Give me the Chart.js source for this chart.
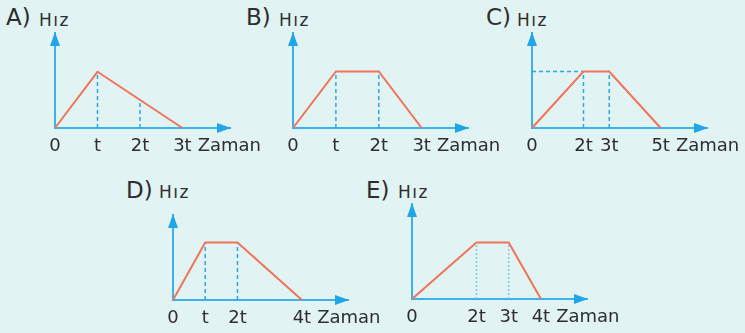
<!DOCTYPE html>
<html>
<head>
<meta charset="utf-8">
<script src="https://cdn.jsdelivr.net/npm/chart.js@4.4.1/dist/chart.umd.min.js"></script>
<style>
  body { margin: 0; width: 745px; height: 333px; overflow: hidden; position: relative; background: #e2f3f3; font-family: "DejaVu Sans", sans-serif; color: #2e2e2e; }
  canvas { position: absolute; }
  .let { position: absolute; font-size: 23px; line-height: 23px; }
  .hiz { position: absolute; font-size: 17px; line-height: 17px; letter-spacing: 1.5px; }
</style>
</head>
<body>
<span class="let" style="left:6px;top:6px">A)</span><span class="hiz" style="left:39px;top:12px">Hız</span>
<span class="let" style="left:246px;top:6px">B)</span><span class="hiz" style="left:279px;top:12px">Hız</span>
<span class="let" style="left:486px;top:6px">C)</span><span class="hiz" style="left:517px;top:12px">Hız</span>
<span class="let" style="left:126px;top:179px">D)</span><span class="hiz" style="left:159px;top:184px">Hız</span>
<span class="let" style="left:366px;top:179px">E)</span><span class="hiz" style="left:398px;top:184px">Hız</span>

<canvas id="cA" width="270" height="141" style="left:5px;top:23px"></canvas>
<canvas id="cB" width="270" height="141" style="left:243px;top:23px"></canvas>
<canvas id="cC" width="270" height="141" style="left:482px;top:23px"></canvas>
<canvas id="cD" width="270" height="131" style="left:123px;top:205px"></canvas>
<canvas id="cE" width="270" height="141" style="left:362px;top:194px"></canvas>

<script>
// time (in t) and speed (peak = 1) for each graph
const timesA = [0, 1, 3];
const speedA = [0, 1, 0];
const timesB = [0, 1, 2, 3];
const speedB = [0, 1, 1, 0];
const timesC = [0, 2, 3, 5];
const speedC = [0, 1, 1, 0];
const timesD = [0, 1, 2, 4];
const speedD = [0, 1, 1, 0];
const timesE = [0, 2, 3, 4];
const speedE = [0, 1, 1, 0];

// dashed guides: x position and height
const guideXA = [1, 2];
const guideYA = [1, 0.5];
const guideXB = [1, 2];
const guideYB = [1, 1];
const guideXC = [2, 3];
const guideYC = [1, 1];
const guideXD = [1, 2];
const guideYD = [1, 1];
const guideXE = [2, 3];
const guideYE = [1, 1];

// tick labels
const ticksA = [0, 1, 2, 3];
const labelsA = ['0', 't', '2t', '3t'];
const ticksB = [0, 1, 2, 3];
const labelsB = ['0', 't', '2t', '3t'];
const ticksC = [0, 2, 3, 5];
const labelsC = ['0', '2t', '3t', '5t'];
const ticksD = [0, 1, 2, 4];
const labelsD = ['0', 't', '2t', '4t'];
const ticksE = [0, 2, 3, 4];
const labelsE = ['0', '2t', '3t', '4t'];

const axisColor = '#3cb2ea';
const arrowColor = '#1ea6e8';
const lineColor = '#f0735a';
const textColor = '#2e2e2e';

// arrow heads + "Zaman" label
const extras = {
  id: 'extras',
  afterDraw(chart) {
    const ctx = chart.ctx;
    const a = chart.chartArea;
    const x = chart.scales.x;
    ctx.save();
    ctx.fillStyle = arrowColor;
    ctx.beginPath();
    ctx.moveTo(a.right + 1, a.bottom);
    ctx.lineTo(a.right - 13, a.bottom - 5);
    ctx.lineTo(a.right - 13, a.bottom + 5);
    ctx.closePath();
    ctx.fill();
    ctx.beginPath();
    ctx.moveTo(a.left, a.top - 1);
    ctx.lineTo(a.left - 5, a.top + 13);
    ctx.lineTo(a.left + 5, a.top + 13);
    ctx.closePath();
    ctx.fill();

    const tks = chart.options.tickVals;
    const lbs = chart.options.tickLabels;
    const last = tks[tks.length - 1];
    ctx.font = '18px "DejaVu Sans"';
    const w = ctx.measureText(lbs[lbs.length - 1]).width;
    ctx.fillStyle = textColor;
    ctx.textBaseline = 'middle';
    ctx.textAlign = 'left';
    ctx.fillText('Zaman', x.getPixelForValue(last) + w / 2 + 6, x.top + 8 + 10.8);
    ctx.restore();
  }
};

function makeChart(id, times, speed, gx, gy, tks, lbs, xMax, yMax, dash, guideColor, hLine) {
  const datasets = [{
    data: times.map((t, i) => ({ x: t, y: speed[i] })),
    borderColor: lineColor,
    borderWidth: 2,
    pointRadius: 0,
    clip: false
  }];
  gx.forEach((g, i) => {
    datasets.push({
      data: [{ x: g, y: 0 }, { x: g, y: gy[i] }],
      borderColor: guideColor,
      borderWidth: 1.5,
      borderDash: dash,
      pointRadius: 0,
      clip: false
    });
  });
  if (hLine) {
    datasets.push({
      data: [{ x: 0, y: gy[0] }, { x: gx[0], y: gy[0] }],
      borderColor: guideColor,
      borderWidth: 1.5,
      borderDash: dash,
      pointRadius: 0,
      clip: false
    });
  }
  new Chart(document.getElementById(id), {
    type: 'line',
    data: { datasets: datasets },
    options: {
      responsive: false,
      animation: false,
      tickVals: tks,
      tickLabels: lbs,
      layout: { padding: { left: 50, top: 10, right: 45, bottom: 6 } },
      plugins: { legend: { display: false }, tooltip: { enabled: false } },
      scales: {
        x: {
          type: 'linear',
          min: 0,
          max: xMax,
          grid: { display: false, drawTicks: false },
          border: { color: axisColor, width: 2 },
          ticks: {
            autoSkip: false,
            maxRotation: 0,
            padding: 8,
            color: textColor,
            font: { family: 'DejaVu Sans', size: 18 },
            callback: v => lbs[tks.indexOf(v)]
          },
          afterBuildTicks: s => { s.ticks = tks.map(v => ({ value: v })); },
          afterFit: s => { s.height = 30; }
        },
        y: {
          min: 0,
          max: yMax,
          grid: { display: false, drawTicks: false },
          border: { color: axisColor, width: 2 },
          ticks: { display: false },
          afterFit: s => { s.width = 0; }
        }
      }
    },
    plugins: [extras]
  });
}

makeChart('cA', timesA, speedA, guideXA, guideYA, ticksA, labelsA, 4.12, 1.69, [4, 3], '#2aa8ea', false);
makeChart('cB', timesB, speedB, guideXB, guideYB, ticksB, labelsB, 4.08, 1.68, [4, 3], '#2aa8ea', false);
makeChart('cC', timesC, speedC, guideXC, guideYC, ticksC, labelsC, 6.8, 1.68, [4, 3], '#2aa8ea', true);
makeChart('cD', timesD, speedD, guideXD, guideYD, ticksD, labelsD, 5.43, 1.48, [4, 3], '#2aa8ea', false);
makeChart('cE', timesE, speedE, guideXE, guideYE, ticksE, labelsE, 5.43, 1.68, [2, 2], '#7cc8ee', false);
</script>
</body>
</html>
